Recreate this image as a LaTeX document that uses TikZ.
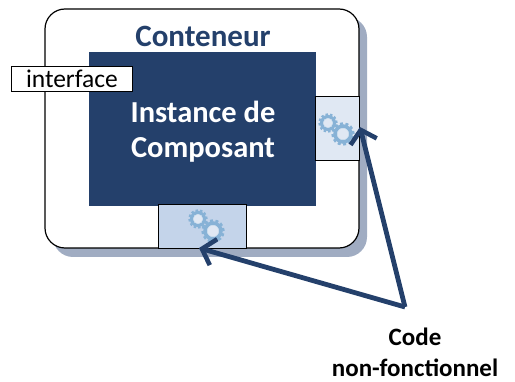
\documentclass[tikz,border=0pt]{standalone}
\usepackage{fontspec}
\setmainfont{Carlito}
\usetikzlibrary{arrows.meta,positioning}
\definecolor{navy}{RGB}{36,64,107}
\definecolor{shadowblue}{RGB}{160,172,194}
\definecolor{cogblue}{RGB}{135,178,214}
\definecolor{panelA}{RGB}{224,232,243}
\definecolor{panelB}{RGB}{196,212,234}
\tikzset{
  box/.style={draw=black,line width=0.9pt,inner sep=0pt,anchor=north west},
  title/.style={align=center},
  cog/.pic={
    \fill[cogblue] (0,0) circle (#1*0.85);
    \draw[cogblue,line width=#1*0.2,dash pattern=on #1*0.26 off #1*0.22] (0,0) circle (#1*0.92);
    \draw[white!60!cogblue,fill=panelA,line width=0.5pt] (0,0) circle (#1*0.5);
  },
  pointer/.style={draw=navy,line width=4.8pt,-{Straight Barb[length=12pt,width=27pt,line width=4.6pt]}},
}
\begin{document}
\begin{tikzpicture}[x=1pt,y=-1pt]
  \useasboundingbox (0,0) rectangle (515,382);
  % container
  \fill[shadowblue,rounded corners=20pt] (53,17) rectangle (367,257);
  \draw[fill=white,line width=1.2pt,rounded corners=20pt] (45,9) rectangle (359,248);
  \node[title,text=navy,font=\bfseries\fontsize{31}{36}\selectfont] (conteneur) at (203,36) {Conteneur};
  % instance
  \node[box,draw=navy,fill=navy,minimum width=226pt,minimum height=153pt] (instance) at (89,52) {};
  \node[title,text=white,font=\bfseries\fontsize{30.5}{35}\selectfont] (label) at (203,132) {Instance de\\Composant};
  % interface
  \node[box,fill=white,minimum width=121pt,minimum height=25pt,font=\fontsize{25.5}{28}\selectfont] (interface) at (11,66) {interface};
  % non functional parts
  \node[box,fill=panelA,minimum width=44pt,minimum height=64pt] (right) at (315,96) {};
  \node[box,fill=panelB,minimum width=88pt,minimum height=44pt] (bottom) at (158,204) {};
  \pic at (328,123) {cog=9.5pt};
  \pic at (343,134) {cog=11.5pt};
  \pic at (198,219) {cog=9.5pt};
  \pic at (213,231) {cog=11.5pt};
  % caption
  \node[title,font=\bfseries\fontsize{25}{31}\selectfont] (code) at (415,352) {Code\\non-fonctionnel};
  \coordinate (start) at (405,307);
  \coordinate (tipright) at (360,127);
  \coordinate (tipbottom) at (199,248);
  \draw[pointer] (start) -- (tipright);
  \draw[pointer] (start) -- (tipbottom);
\end{tikzpicture}
\end{document}
